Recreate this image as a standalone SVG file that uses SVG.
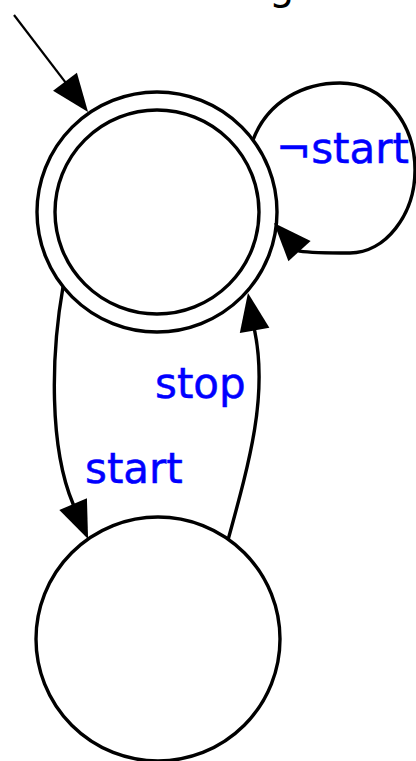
<svg xmlns="http://www.w3.org/2000/svg" width="416" height="761" viewBox="0 0 416 761">
<style>
.node{fill:#ffffff;stroke:#000000;stroke-width:3.4}
.edge{fill:none;stroke:#000000;stroke-width:3.4}
.init{fill:none;stroke:#000000;stroke-width:2.2}
.lbl{font-family:"DejaVu Sans","Liberation Sans",sans-serif;font-size:42px;fill:#0000ff;stroke:#0000ff;stroke-width:0.5}
.title{font-family:"DejaVu Sans","Liberation Sans",sans-serif;font-size:40px;fill:#000000}
</style>
<defs>
<marker id="arrow" markerUnits="userSpaceOnUse" markerWidth="40" markerHeight="32" refX="32" refY="15" orient="auto" overflow="visible">
<path d="M0,0 L38,15 L0,30 z" fill="#000000"/>
</marker>
</defs>
<rect x="0" y="0" width="416" height="761" fill="#ffffff"/>
<text class="title" x="269" y="-1">g</text>
<g id="s0">
<circle class="node" cx="157" cy="212" r="120"/>
<circle class="node" cx="157" cy="212" r="102"/>
</g>
<g id="s1">
<circle class="node" cx="158" cy="639" r="122"/>
</g>
<g id="edges">
<path class="init" d="M14,15 L84.4,107.2" marker-end="url(#arrow)"/>
<path class="edge" d="M253,140 C268,100 305,83 340,83 C385,83 415,125 415,170 C415,215 385,253 350,253 C330,253 312,253 299.5,251.1 L278,227.4" marker-end="url(#arrow)"/>
<path class="edge" d="M63,287 C51,355 49,447 73.1,504 L85.7,533.5" marker-end="url(#arrow)"/>
<path class="edge" d="M228,540 C250,460 268,395 254.6,330.4 L249,298.9" marker-end="url(#arrow)"/>
</g>
<g id="labels">
<text class="lbl" x="276" y="163">¬start</text>
<text class="lbl" x="155" y="398">stop</text>
<text class="lbl" x="85" y="483">start</text>
</g>
</svg>
